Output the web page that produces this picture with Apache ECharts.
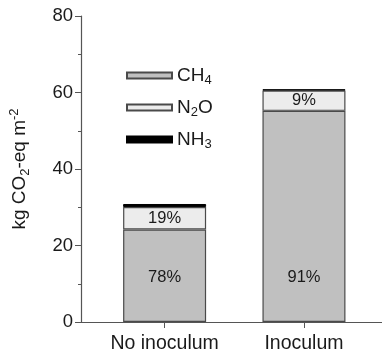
<!DOCTYPE html>
<html>
<head>
<meta charset="utf-8">
<script src="https://cdn.jsdelivr.net/npm/echarts@6/dist/echarts.min.js"></script>
<style>html,body{margin:0;padding:0;background:#fff}#c{width:382px;height:355px}</style>
</head>
<body>
<div id="c"></div>
<script>
var categories = ['No inoculum', 'Inoculum'];
var ch4 = [24.2, 55.2];
var n2o = [5.85, 5.3];
var nh3 = [0.8, 0.35];
var ch4Labels = ['78%', '91%'];
var n2oLabels = ['19%', '9%'];
var yTicks = [0, 20, 40, 60, 80];

var positions = categories.map(function (c, i) { return i + 1; });
// value first, category position second (so the value dimension is stacked)
function pairs(arr) { return arr.map(function (v, i) { return [v, positions[i]]; }); }

var font = '"Liberation Sans", Arial, sans-serif';
var border = '#4a4a4a';

var chart = echarts.init(document.getElementById('c'), null, {renderer: 'canvas'});
chart.setOption({
  animation: false,
  backgroundColor: '#fff',
  textStyle: {fontFamily: font},
  grid: {left: 81, right: 0, top: 16, bottom: 33, containLabel: false, outerBoundsMode: 'none'},
  legend: {
    orient: 'vertical',
    left: 121,
    top: 59,
    icon: 'rect',
    itemWidth: 45,
    itemHeight: 6,
    itemGap: 9,
    data: ['CH4', 'N2O', 'NH3'],
    formatter: function (name) {
      if (name === 'CH4') return '{a|CH}{s|4}';
      if (name === 'N2O') return '{a|N}{s|2}{a|O}';
      return '{a|NH}{s|3}';
    },
    textStyle: {
      fontFamily: font,
      color: '#1a1a1a',
      rich: {
        a: {fontSize: 19, fontFamily: font, color: '#1a1a1a', lineHeight: 22},
        s: {fontSize: 13, fontFamily: font, color: '#1a1a1a', lineHeight: 22, padding: [10, 0, 0, 0]}
      }
    }
  },
  xAxis: {
    type: 'value',
    min: 0.4,
    max: 2.56,
    splitLine: {show: false},
    axisLine: {show: true, lineStyle: {color: '#555', width: 1.2}},
    axisTick: {show: true, customValues: positions, length: 6, lineStyle: {color: '#555'}},
    axisLabel: {
      customValues: positions,
      formatter: function (v) { return categories[Math.round(v) - 1] || ''; },
      fontSize: 19.5, color: '#1a1a1a', margin: 12, fontFamily: font
    }
  },
  yAxis: {
    type: 'value',
    min: 0,
    max: 80,
    interval: 20,
    splitLine: {show: false},
    axisLine: {show: true, lineStyle: {color: '#555', width: 1.2}},
    axisTick: {show: true, length: 6, lineStyle: {color: '#555'}},
    minorTick: {show: true, splitNumber: 2, length: 3, lineStyle: {color: '#555'}},
    axisLabel: {fontSize: 18.5, color: '#1a1a1a', margin: 8, fontFamily: font,
      formatter: function (v) { return yTicks.indexOf(v) >= 0 ? String(v) : ''; }},
    name: '{a|kg CO}{sub|2}{a|-eq m}{sup|-2}',
    nameLocation: 'middle',
    nameGap: 48,
    nameTextStyle: {
      fontFamily: font,
      rich: {
        a: {fontSize: 19, fontFamily: font, color: '#1a1a1a', lineHeight: 26},
        sub: {fontSize: 13, fontFamily: font, color: '#1a1a1a', lineHeight: 26, padding: [11, 0, 0, 0]},
        sup: {fontSize: 13, fontFamily: font, color: '#1a1a1a', lineHeight: 26, padding: [0, 0, 11, 0]}
      }
    }
  },
  series: [
    {
      name: 'CH4', type: 'bar', stack: 't', barWidth: 83,
      encode: {x: 1, y: 0},
      data: pairs(ch4),
      itemStyle: {color: '#c0c0c0', borderColor: border, borderWidth: 1.2},
      label: {show: true, position: 'insideBottom', distance: 36, fontSize: 16.5, color: '#1a1a1a', fontFamily: font,
        formatter: function (p) { return ch4Labels[p.dataIndex]; }}
    },
    {
      name: 'N2O', type: 'bar', stack: 't', barWidth: 83,
      encode: {x: 1, y: 0},
      data: pairs(n2o),
      itemStyle: {color: '#ececec', borderColor: border, borderWidth: 1.2},
      label: {show: true, position: 'inside', fontSize: 16.5, color: '#1a1a1a', fontFamily: font,
        formatter: function (p) { return n2oLabels[p.dataIndex]; }}
    },
    {
      name: 'NH3', type: 'bar', stack: 't', barWidth: 83,
      encode: {x: 1, y: 0},
      data: pairs(nh3),
      itemStyle: {color: '#000', borderColor: '#000', borderWidth: 1}
    }
  ]
});
</script>
</body>
</html>
